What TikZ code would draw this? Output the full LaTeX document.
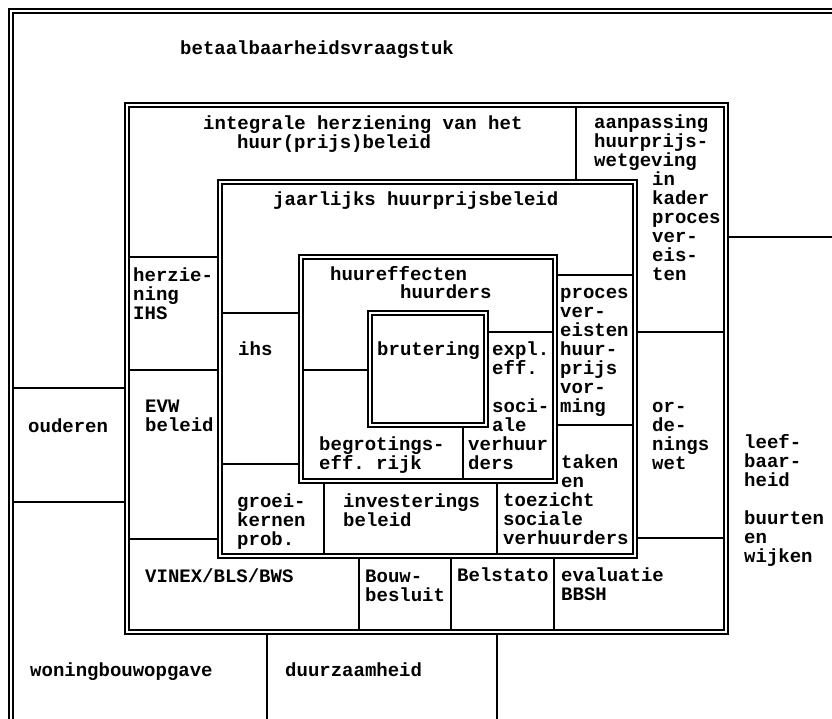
\documentclass[tikz,border=0pt]{standalone}
\usepackage{fontspec}
\setmonofont{Liberation Mono}
\newcommand\lns[1]{\vtop{\baselineskip=19pt\lineskip=0pt\lineskiplimit=-100pt\halign{##\hfil\cr#1\crcr}}}
\begin{document}
\begin{tikzpicture}[x=1pt,y=-1pt,
  txt/.style={anchor=base west,inner sep=0pt,font=\ttfamily\bfseries\fontsize{19}{19}\selectfont},
  sl/.style={line width=1.7pt},
  dout/.style={line width=2.1pt},
  din/.style={line width=1.3pt}]
\useasboundingbox (0,0) rectangle (832,718);
\begin{scope}
\clip (0,0) rectangle (832,718);
% outer frame
\draw[dout] (9,730) -- (9,9) -- (840,9);
\draw[din] (13,730) -- (13,13) -- (840,13);
% box 2
\draw[dout] (125,103) rectangle (728,634);
\draw[din] (129,107) rectangle (724,630);
% box 3
\draw[dout] (218,180) rectangle (637,558);
\draw[din] (222,184) rectangle (633,554);
% box 4
\draw[dout] (299,255) rectangle (557,483);
\draw[din] (303,259) rectangle (553,479);
% box 5
\draw[dout] (368,311) rectangle (488,427);
\draw[din] (372,315) rectangle (484,423);
% internal lines
\draw[sl] (576,107) -- (576,180);
\draw[sl] (129,257) -- (218,257);
\draw[sl] (129,370) -- (218,370);
\draw[sl] (129,539) -- (218,539);
\draw[sl] (222,313) -- (299,313);
\draw[sl] (222,464) -- (299,464);
\draw[sl] (303,370) -- (368,370);
\draw[sl] (488,332) -- (553,332);
\draw[sl] (463,427) -- (463,479);
\draw[sl] (557,275) -- (633,275);
\draw[sl] (557,425) -- (633,425);
\draw[sl] (324,483) -- (324,554);
\draw[sl] (497,483) -- (497,554);
\draw[sl] (637,332) -- (724,332);
\draw[sl] (637,538) -- (724,538);
\draw[sl] (359,558) -- (359,630);
\draw[sl] (451,558) -- (451,630);
\draw[sl] (554,558) -- (554,630);
\draw[sl] (13,388) -- (125,388);
\draw[sl] (13,502) -- (125,502);
\draw[sl] (728,237) -- (840,237);
\draw[sl] (267,634) -- (267,730);
\draw[sl] (497,634) -- (497,730);
\end{scope}
% texts
\node[txt] (t1) at (180,54) {betaalbaarheidsvraagstuk};
\node[txt] (t2) at (203,129) {integrale herziening van het};
\node[txt] (t3) at (237,148) {huur(prijs)beleid};
\node[txt] (t4) at (594,128) {\lns{aanpassing\cr huurprijs-\cr wetgeving}};
\node[txt] (t5) at (652,185) {\lns{in\cr kader\cr proces\cr ver-\cr eis-\cr ten}};
\node[txt] (t6) at (273,205) {jaarlijks huurprijsbeleid};
\node[txt] (t7) at (133,281) {\lns{herzie-\cr ning\cr IHS}};
\node[txt] (t8) at (330,280) {huureffecten};
\node[txt] (t9) at (400,298) {huurders};
\node[txt] (t10) at (238,355) {ihs};
\node[txt] (t11) at (377,355) {brutering};
\node[txt] (t12) at (492,355) {\lns{expl.\cr eff.\cr \cr soci-\cr ale}};
\node[txt] (t13) at (468,450) {\lns{verhuur\cr ders}};
\node[txt] (t14) at (560,298) {\lns{proces\cr ver-\cr eisten\cr huur-\cr prijs\cr vor-\cr ming}};
\node[txt] (t15) at (28,432) {ouderen};
\node[txt] (t16) at (145,412) {\lns{EVW\cr beleid}};
\node[txt] (t17) at (319,450) {\lns{begrotings-\cr eff. rijk}};
\node[txt] (t18) at (652,412) {\lns{or-\cr de-\cr nings\cr wet}};
\node[txt] (t19) at (561,468) {\lns{taken\cr en}};
\node[txt] (t20) at (503,506) {\lns{toezicht\cr sociale\cr verhuurders}};
\node[txt] (t21) at (744,448) {\lns{leef-\cr baar-\cr heid\cr \cr buurten\cr en\cr wijken}};
\node[txt] (t22) at (237,507) {\lns{groei-\cr kernen\cr prob.}};
\node[txt] (t23) at (343,507) {\lns{investerings\cr beleid}};
\node[txt] (t24) at (145,582) {VINEX/BLS/BWS};
\node[txt] (t25) at (365,582) {\lns{Bouw-\cr besluit}};
\node[txt] (t26) at (457,581) {Belstato};
\node[txt] (t27) at (561,581) {\lns{evaluatie\cr BBSH}};
\node[txt] (t28) at (30,676) {woningbouwopgave};
\node[txt] (t29) at (285,676) {duurzaamheid};
\end{tikzpicture}
\end{document}
